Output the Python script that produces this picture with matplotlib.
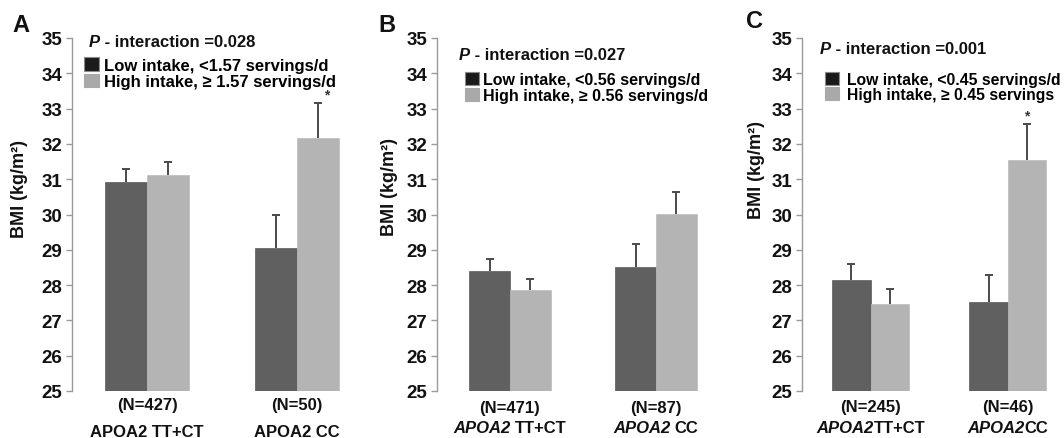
import matplotlib
matplotlib.use("Agg")
import numpy as np
from matplotlib import pyplot as plt
from matplotlib.patches import Patch
from matplotlib.offsetbox import TextArea, HPacker, AnnotationBbox

plt.rcParams["font.family"] = ["Liberation Sans", "DejaVu Sans"]
plt.rcParams["font.weight"] = "bold"

# data: BMI means and upper SE for low / high intake
groups = ["TT+CT", "CC"]
n_labels = {
    "A": ["(N=427)", "(N=50)"],
    "B": ["(N=471)", "(N=87)"],
    "C": ["(N=245)", "(N=46)"],
}
low_mean = {"A": [30.92, 29.05], "B": [28.41, 28.52], "C": [28.14, 27.52]}
low_err = {"A": [0.37, 0.94], "B": [0.33, 0.64], "C": [0.45, 0.77]}
high_mean = {"A": [31.12, 32.18], "B": [27.87, 30.02], "C": [27.46, 31.54]}
high_err = {"A": [0.37, 0.97], "B": [0.30, 0.62], "C": [0.42, 1.02]}
p_values = {"A": "0.028", "B": "0.027", "C": "0.001"}
low_labels = {
    "A": "Low intake, <1.57 servings/d",
    "B": "Low intake, <0.56 servings/d",
    "C": "Low intake, <0.45 servings/d",
}
high_labels = {
    "A": "High intake, \u2265 1.57 servings/d",
    "B": "High intake, \u2265 0.56 servings/d",
    "C": "High intake, \u2265 0.45 servings",
}
significant = {"A": [False, True], "B": [False, False], "C": [False, True]}

LOW = "#606060"
HIGH = "#b4b4b4"
ERR = "#4a4a4a"
W, H = 1064, 439

fig = plt.figure(figsize=(W / 100, H / 100), dpi=100)

# pixel layout per panel
layout = {
    "A": dict(left=72, right=372, xmax=1.5, letter=(12, 25), ylab=(-0.147, 0.575),
              ptxt=(0.057, 0.99), leg=(0.040, 0.946), legsize=12, legpad=0.3,
              star_dx=6, ny=-9.5, gy=-29, split=False, sep=0),
    "B": dict(left=437, right=729, xmax=1.5, letter=(378, 25), ylab=(-0.134, 0.58),
              ptxt=(0.075, 0.952), leg=(0.096, 0.903), legsize=11.5, legpad=0.2,
              star_dx=0, ny=-12, gy=-26, split=True, sep=3),
    "C": dict(left=802, right=1064, xmax=1.41, letter=(746, 22), ylab=(-0.141, 0.63),
              ptxt=(0.069, 0.969), leg=(0.089, 0.905), legsize=11.3, legpad=0.45,
              star_dx=0, ny=-11.5, gy=-26, split=True, sep=0),
}

top, bottom = 39, 392
bw = 0.28
x = np.arange(len(groups))


def up_errorbar(ax, xs, ys, errs):
    eb = ax.errorbar(xs, ys, yerr=[np.zeros(len(errs)), errs], fmt="none",
                     ecolor=ERR, elinewidth=1.4, capsize=3, capthick=1.4, zorder=3)
    # hide the cap that sits on top of the bar
    eb.lines[1][0].set_visible(False)


for key, lay in layout.items():
    ax = fig.add_axes([lay["left"] / W, (H - bottom) / H,
                       (lay["right"] - lay["left"]) / W, (bottom - top) / H])
    ax.bar(x - bw / 2, np.array(low_mean[key]) - 25, bw, bottom=25, color=LOW,
           edgecolor="#5a5a5a", linewidth=0.5, zorder=2)
    ax.bar(x + bw / 2, np.array(high_mean[key]) - 25, bw, bottom=25, color=HIGH,
           edgecolor="#bcbcbc", linewidth=0.5, zorder=2)
    up_errorbar(ax, x - bw / 2, low_mean[key], low_err[key])
    up_errorbar(ax, x + bw / 2, high_mean[key], high_err[key])

    for i, sig in enumerate(significant[key]):
        if sig:
            ax.annotate("*", (x[i] + bw / 2, high_mean[key][i] + high_err[key][i]),
                        xytext=(lay["star_dx"], 1), textcoords="offset points",
                        ha="center", va="bottom", fontsize=10, color="#333333")

    ax.set_xlim(-0.5, lay["xmax"])
    ax.set_ylim(25, 35)
    ax.set_yticks(range(25, 36))
    ax.set_xticks([])
    for s in ["top", "right", "bottom"]:
        ax.spines[s].set_visible(False)
    ax.spines["left"].set_color("#9a9a9a")
    ax.spines["left"].set_linewidth(1.0)
    ax.tick_params(axis="y", direction="out", length=4, width=1, color="#9a9a9a",
                   labelsize=13.5, pad=3, labelcolor="#111111")
    ax.set_ylabel("BMI (kg/m\u00b2)", fontsize=13, fontweight="bold", color="#111111")
    ax.yaxis.set_label_coords(*lay["ylab"])

    # group labels under the bars
    for i in range(len(groups)):
        ax.annotate(n_labels[key][i], (x[i], 0), xycoords=("data", "axes fraction"),
                    xytext=(0, lay["ny"]), textcoords="offset points",
                    ha="center", va="center", fontsize=12, color="#111111",
                    annotation_clip=False)
        if lay["split"]:
            parts = [TextArea("APOA2", textprops=dict(style="italic", weight="bold",
                                                      size=12, color="#111111")),
                     TextArea(groups[i], textprops=dict(weight="bold", size=12,
                                                        color="#111111"))]
        else:
            parts = [TextArea("APOA2 " + groups[i],
                              textprops=dict(weight="bold", size=12, color="#111111"))]
        box = HPacker(children=parts, pad=0, sep=lay["sep"], align="baseline")
        ab = AnnotationBbox(box, (x[i], 0), xycoords=("data", "axes fraction"),
                            xybox=(0, lay["gy"]), boxcoords="offset points",
                            frameon=False, box_alignment=(0.5, 0.5),
                            annotation_clip=False)
        ax.add_artist(ab)

    # P - interaction line
    pbox = HPacker(children=[
        TextArea("P", textprops=dict(style="italic", weight="bold", size=12, color="#111111")),
        TextArea(" - interaction =" + p_values[key],
                 textprops=dict(weight="bold", size=12, color="#111111"))],
        pad=0, sep=0, align="baseline")
    ab = AnnotationBbox(pbox, lay["ptxt"], xycoords="axes fraction", frameon=False,
                        box_alignment=(0, 0.5), annotation_clip=False)
    ax.add_artist(ab)

    handles = [Patch(facecolor="#1a1a1a", edgecolor="#8a8a8a", linewidth=0.8),
               Patch(facecolor="#a9a9a9", edgecolor="#a9a9a9", linewidth=0.8)]
    ax.legend(handles, [low_labels[key], high_labels[key]], loc="upper left",
              bbox_to_anchor=lay["leg"], frameon=False,
              handlelength=0.9, handleheight=0.9, handletextpad=lay["legpad"],
              labelspacing=0.05, borderpad=0, borderaxespad=0,
              prop=dict(weight="bold", size=lay["legsize"]))

    lx, ly = lay["letter"]
    fig.text(lx / W, 1 - ly / H, key, fontsize=17, fontweight="bold",
             ha="left", va="center", color="#111111")

fig.savefig("out.png", dpi=100)
